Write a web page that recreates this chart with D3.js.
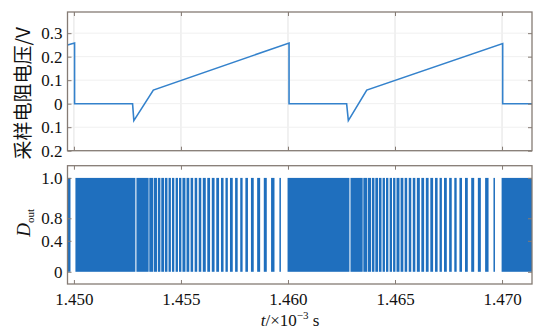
<!DOCTYPE html>
<html>
<head>
<meta charset="utf-8">
<script src="https://cdn.jsdelivr.net/npm/d3@7"></script>
<style>
  body { margin: 0; background: #fff; }
  svg { display: block; }
</style>
</head>
<body>
<svg id="chart" width="533" height="331"></svg>
<script>
// time axis, ms
const xTicks = [1.450, 1.455, 1.460, 1.465, 1.470];
const xTickLabels = ['1.450', '1.455', '1.460', '1.465', '1.470'];

// sampling resistor voltage (V)
const vTicks = [0.3, 0.2, 0.1, 0, -0.1, -0.2];
const vTickLabels = ['0.3', '0.2', '0.1', '0', '0.1', '0.2'];
const vTime = [1.44970, 1.45003, 1.45003, 1.45274, 1.45280, 1.45371, 1.46005, 1.46005,
  1.46274, 1.46282, 1.46368, 1.47003, 1.47003, 1.47140];
const vValue = [0.250, 0.258, 0, 0, -0.072, 0.058, 0.258, 0,
  0, -0.072, 0.058, 0.256, 0, 0];

// Dout: white gaps between the pulses (time intervals, ms)
const dTicks = [1.0, 0.57, 0.33, 0];
const dTickLabels = ['1.0', '0.8', '0.4', '0'];
const doutGaps = [
  [1.44984, 1.45007], [1.45287, 1.45292],
  [1.45349, 1.45352], [1.45370, 1.45373], [1.45388, 1.45392], [1.45404, 1.45408],
  [1.45421, 1.45425], [1.45437, 1.45442], [1.45453, 1.45458], [1.45469, 1.45475],
  [1.45486, 1.45491], [1.45502, 1.45507], [1.45521, 1.45526], [1.45539, 1.45545],
  [1.45557, 1.45564], [1.45576, 1.45583], [1.45595, 1.45602], [1.45616, 1.45623],
  [1.45636, 1.45644], [1.45657, 1.45665], [1.45678, 1.45687], [1.45699, 1.45708],
  [1.45719, 1.45729], [1.45742, 1.45753], [1.45765, 1.45777], [1.45788, 1.45801],
  [1.45813, 1.45827], [1.45840, 1.45856], [1.45870, 1.45887], [1.45901, 1.45921],
  [1.45937, 1.45960], [1.45967, 1.45998],
  [1.46287, 1.46292],
  [1.46349, 1.46352], [1.46370, 1.46373], [1.46388, 1.46392], [1.46404, 1.46408],
  [1.46421, 1.46425], [1.46437, 1.46442], [1.46453, 1.46458], [1.46469, 1.46475],
  [1.46486, 1.46491], [1.46502, 1.46507], [1.46521, 1.46526], [1.46539, 1.46545],
  [1.46557, 1.46564], [1.46576, 1.46583], [1.46595, 1.46602], [1.46616, 1.46623],
  [1.46636, 1.46644], [1.46657, 1.46665], [1.46678, 1.46687], [1.46699, 1.46708],
  [1.46719, 1.46729], [1.46742, 1.46753], [1.46765, 1.46777], [1.46788, 1.46801],
  [1.46813, 1.46827], [1.46840, 1.46856], [1.46870, 1.46887], [1.46901, 1.46921],
  [1.46937, 1.46960], [1.46967, 1.46998]
];

const W = 533, H = 331;
const left = 67.5, right = 532;
const topPanel = { y0: 12, y1: 150.7 };
const botPanel = { y0: 165.7, y1: 284 };
const frameColor = '#857b74';
const lineColor = '#3482cc';
const barColor = '#1f6fbe';
const serif = '"Times New Roman", "Liberation Serif", "DejaVu Serif", serif';

const svg = d3.select('#chart');

const x = d3.scaleLinear().domain([1.4497, 1.4714]).range([left, right]);
const yV = d3.scaleLinear().domain([-0.2, 0.39]).range([topPanel.y1, topPanel.y0]);
const yD = d3.scaleLinear().domain([-0.13, 1.13]).range([botPanel.y1, botPanel.y0]);

function grid(p, yScale, yt) {
  const g = svg.append('g');
  g.selectAll('line.vg').data(xTicks).enter().append('line')
    .attr('x1', d => x(d)).attr('x2', d => x(d))
    .attr('y1', p.y0).attr('y2', p.y1)
    .attr('stroke', '#e2e2e2').attr('stroke-width', 1);
  g.selectAll('line.hg').data(yt).enter().append('line')
    .attr('x1', left).attr('x2', right)
    .attr('y1', d => yScale(d)).attr('y2', d => yScale(d))
    .attr('stroke', '#f0f0f0').attr('stroke-width', 1);
}

function box(p, yScale, yt, ytl, showX) {
  const g = svg.append('g');
  const axL = d3.axisLeft(yScale).tickValues(yt).tickSize(-4).tickPadding(5)
    .tickFormat((d, i) => ytl[i]);
  const axR = d3.axisRight(yScale).tickValues(yt).tickSize(-4).tickFormat('');
  const axT = d3.axisTop(x).tickValues(xTicks).tickSize(-4).tickFormat('');
  const axB = d3.axisBottom(x).tickValues(xTicks).tickSize(-4).tickPadding(9)
    .tickFormat((d, i) => showX ? xTickLabels[i] : '');
  [[axL, `translate(${left},0)`], [axR, `translate(${right},0)`],
   [axT, `translate(0,${p.y0})`], [axB, `translate(0,${p.y1})`]].forEach(([ax, tr]) => {
    const a = g.append('g').attr('transform', tr).call(ax);
    a.attr('font-family', null);
    a.select('.domain').remove();
    a.selectAll('.tick line').attr('stroke', frameColor);
    a.selectAll('.tick text')
      .style('font-family', serif).style('font-size', '17px').style('fill', '#111');
  });
  g.append('rect').attr('x', left).attr('y', p.y0)
    .attr('width', right - left).attr('height', p.y1 - p.y0)
    .attr('fill', 'none').attr('stroke', frameColor).attr('stroke-width', 1.3);
}

// top panel
grid(topPanel, yV, vTicks);
const vData = vTime.map((t, i) => [t, vValue[i]]);
svg.append('path').datum(vData)
  .attr('d', d3.line().x(d => x(d[0])).y(d => yV(d[1])))
  .attr('fill', 'none').attr('stroke', lineColor).attr('stroke-width', 1.6);
box(topPanel, yV, vTicks, vTickLabels, false);

// bottom panel: pulses drawn as blue spans between the gaps
const dom = x.domain();
const spans = [];
let cur = dom[0];
doutGaps.forEach(g => { spans.push([cur, g[0]]); cur = g[1]; });
spans.push([cur, dom[1]]);
svg.append('g').selectAll('rect').data(spans).enter().append('rect')
  .attr('x', d => x(d[0])).attr('width', d => Math.max(0, x(d[1]) - x(d[0])))
  .attr('y', yD(1)).attr('height', yD(0) - yD(1))
  .attr('fill', barColor);
box(botPanel, yD, dTicks, dTickLabels, true);

// axis titles
svg.append('text')
  .attr('transform', `translate(30,${(topPanel.y0 + topPanel.y1) / 2 + 12}) rotate(-90)`)
  .attr('text-anchor', 'middle')
  .style('font-family', '"Noto Sans CJK SC", sans-serif').style('font-size', '19px').style('fill', '#111')
  .text('采样电阻电压/V');

const dl = svg.append('text')
  .attr('transform', `translate(30,${(botPanel.y0 + botPanel.y1) / 2 - 2}) rotate(-90)`)
  .attr('text-anchor', 'middle')
  .style('font-family', serif).style('font-size', '19px').style('fill', '#111');
dl.append('tspan').style('font-style', 'italic').text('D');
dl.append('tspan').attr('dy', 4).style('font-size', '11px').text('out');

const xl = svg.append('text')
  .attr('x', 290).attr('y', 326).attr('text-anchor', 'middle')
  .style('font-family', serif).style('font-size', '17px').style('fill', '#111');
xl.append('tspan').style('font-style', 'italic').text('t');
xl.append('tspan').text('/×10');
xl.append('tspan').attr('dy', -7).style('font-size', '11px').text('−3');
xl.append('tspan').attr('dy', 7).text(' s');
</script>
</body>
</html>
